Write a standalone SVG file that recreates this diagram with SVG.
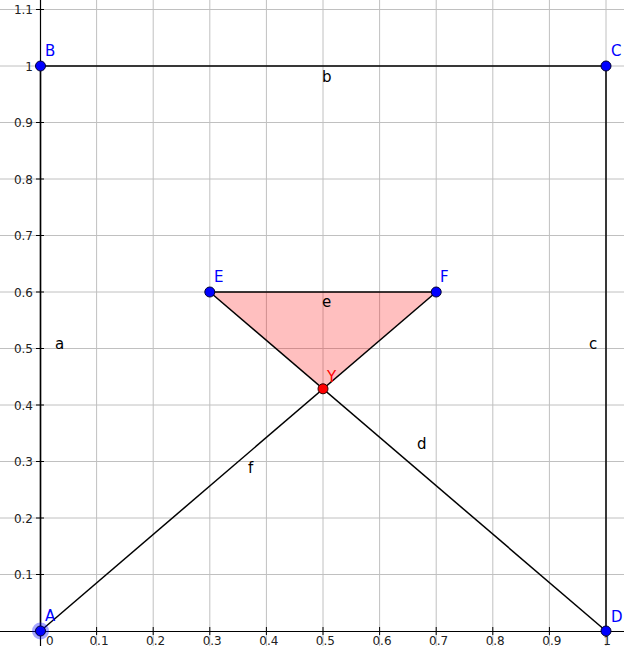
<svg xmlns="http://www.w3.org/2000/svg" width="624" height="646" viewBox="0 0 624 646">
<style>
.grid{stroke:#c0c0c0;stroke-width:1;fill:none}
.axis{stroke:#000;stroke-width:1.2;fill:none}
.tick{stroke:#000;stroke-width:1}
.ax{font-family:"DejaVu Sans",sans-serif;font-size:12px;fill:#222}
.seg{stroke:#000;stroke-width:1.5;fill:none}
.pt{fill:#0000ff;stroke:#000033;stroke-width:1}
.lbl{font-family:"DejaVu Sans",sans-serif;font-size:15px;fill:#0000ff}
.slbl{font-family:"DejaVu Sans",sans-serif;font-size:15px;fill:#000}
</style>
<rect width="624" height="646" fill="#fff"/>
<g id="grid" class="grid">
<path d="M96.6 0V646M153.2 0V646M209.8 0V646M266.4 0V646M323 0V646M379.6 0V646M436.2 0V646M492.8 0V646M549.4 0V646M606 0V646"/>
<path d="M0 574.5H624M0 518H624M0 461.5H624M0 405H624M0 348.5H624M0 292H624M0 235.5H624M0 179H624M0 122.5H624M0 66H624M0 9.5H624"/>
</g>
<g id="axes">
<path class="axis" d="M40.5 0V646M0 631.5H624"/>
<path class="tick" d="M36 574.5H44M36 518H44M36 461.5H44M36 405H44M36 348.5H44M36 292H44M36 235.5H44M36 179H44M36 122.5H44M36 66H44M36 9.5H44"/>
<path class="tick" d="M96.6 627V635M153.2 627V635M209.8 627V635M266.4 627V635M323 627V635M379.6 627V635M436.2 627V635M492.8 627V635M549.4 627V635M606 627V635"/>
<g class="ax" text-anchor="end">
<text x="33" y="579">0.1</text><text x="33" y="522.5">0.2</text><text x="33" y="466">0.3</text><text x="33" y="409.5">0.4</text><text x="33" y="353">0.5</text><text x="33" y="296.5">0.6</text><text x="33" y="240">0.7</text><text x="33" y="183.5">0.8</text><text x="33" y="127">0.9</text><text x="33" y="70.5">1</text><text x="33" y="14">1.1</text>
</g>
<g class="ax" text-anchor="middle">
<text x="99" y="644.5">0.1</text><text x="155.6" y="644.5">0.2</text><text x="212.2" y="644.5">0.3</text><text x="268.8" y="644.5">0.4</text><text x="325.4" y="644.5">0.5</text><text x="382" y="644.5">0.6</text><text x="438.6" y="644.5">0.7</text><text x="495.2" y="644.5">0.8</text><text x="551.8" y="644.5">0.9</text><text x="607" y="644.5">1</text>
</g>
<text class="ax" x="46" y="644.5">0</text>
</g>
<g id="polygon">
<polygon points="209.8,292 436.2,292 323,388.8" fill="#ff0000" fill-opacity="0.25" stroke="none"/>
</g>
<g id="connectors">
<line class="seg" x1="40.5" y1="631" x2="40.5" y2="66"/>
<line class="seg" x1="40.5" y1="66" x2="606" y2="66"/>
<line class="seg" x1="606" y1="66" x2="606" y2="631"/>
<line class="seg" x1="606" y1="631" x2="209.8" y2="292"/>
<line class="seg" x1="209.8" y1="292" x2="436.2" y2="292"/>
<line class="seg" x1="40.5" y1="631" x2="436.2" y2="292"/>
</g>
<g id="segment-labels" class="slbl">
<text x="55" y="349">a</text>
<text x="322" y="82">b</text>
<text x="589" y="349">c</text>
<text x="417" y="449">d</text>
<text x="322" y="307">e</text>
<text x="248" y="473">f</text>
</g>
<g id="A"><circle cx="40.5" cy="631" r="8.5" fill="#0000ff" fill-opacity="0.35"/><circle class="pt" cx="40.5" cy="631" r="5"/><text class="lbl" x="45" y="621">A</text></g>
<g id="B"><circle class="pt" cx="40.5" cy="66" r="5"/><text class="lbl" x="45" y="56">B</text></g>
<g id="C"><circle class="pt" cx="606" cy="66" r="5"/><text class="lbl" x="611" y="56">C</text></g>
<g id="D"><circle class="pt" cx="606" cy="631" r="5"/><text class="lbl" x="611" y="622">D</text></g>
<g id="E"><circle class="pt" cx="209.8" cy="292" r="5"/><text class="lbl" x="214" y="282">E</text></g>
<g id="F"><circle class="pt" cx="436.2" cy="292" r="5"/><text class="lbl" x="440" y="282">F</text></g>
<g id="Y"><circle cx="323" cy="388.8" r="5" fill="#ff0000" stroke="#330000" stroke-width="1"/><text x="327" y="382" font-family="DejaVu Sans,sans-serif" font-size="15" fill="#ff0000">Y</text></g>
</svg>
